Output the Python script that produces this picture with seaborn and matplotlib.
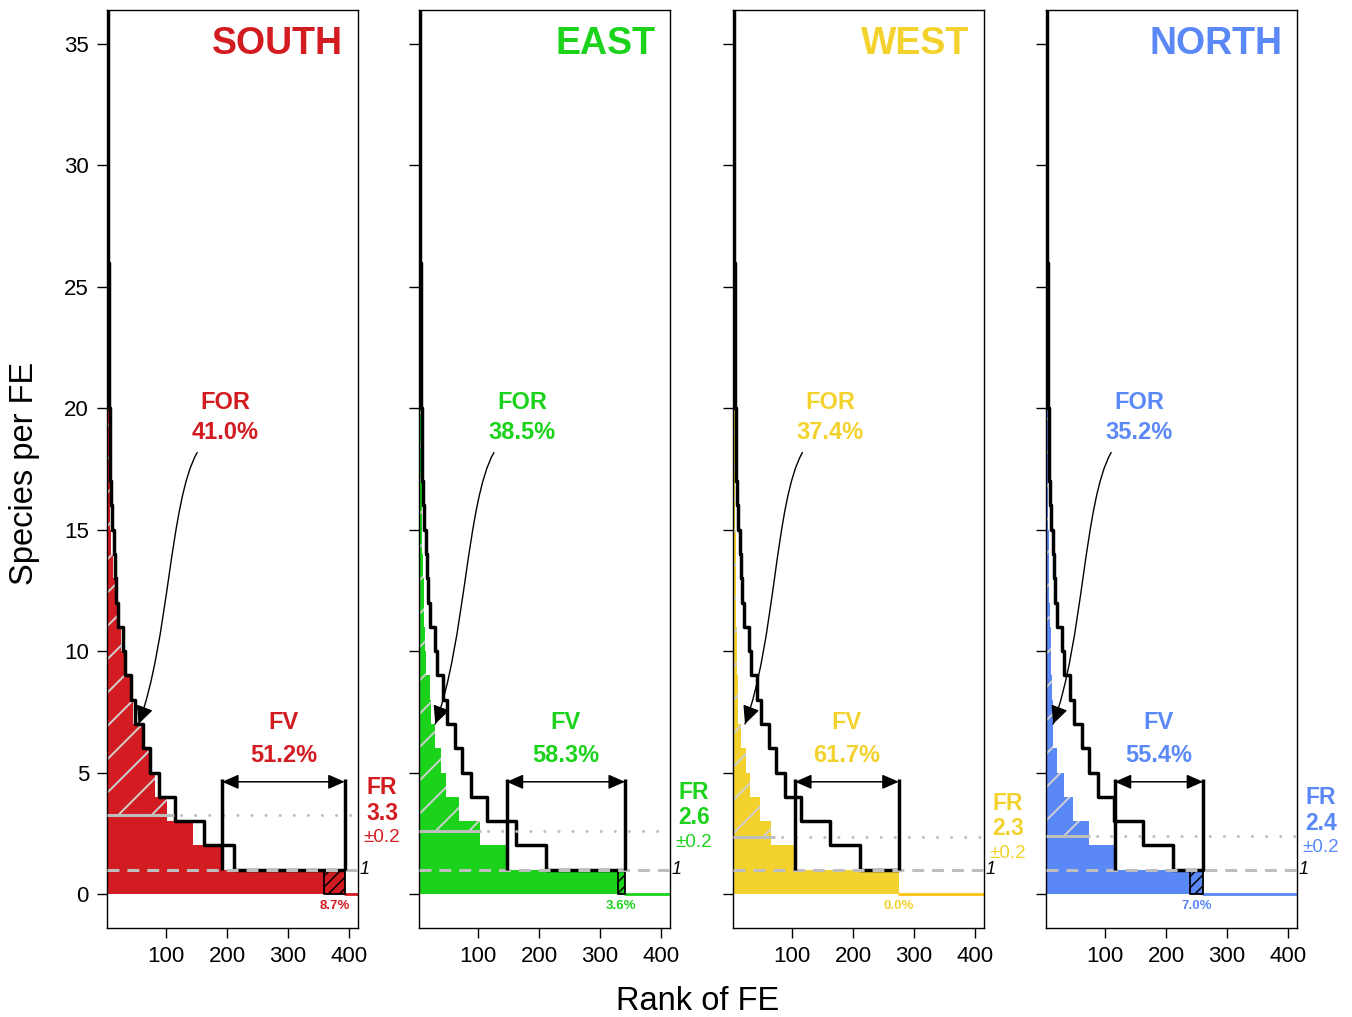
import numpy as np
import seaborn as sns
import matplotlib.pyplot as plt
from matplotlib.patches import FancyArrowPatch
from matplotlib.path import Path
from matplotlib.transforms import blended_transform_factory

# ---- data ----
regions = ["SOUTH", "EAST", "WEST", "NORTH"]
fill_colors = ["#D31C21", "#1BD31B", "#F4D22E", "#5B88F7"]
line_colors = ["#D31C21", "#1BD31B", "#FFC20E", "#5B88F7"]

# species per FE as steps: value of each step and the rank where it ends
south_levels = [25, 23, 20, 18, 16, 15, 14, 13, 12, 11, 10, 9, 8, 7, 6, 5, 4, 3, 2, 1]
south_ends = [5, 6, 7, 8, 9, 10, 13, 16, 20, 27, 31, 41, 46, 60, 72, 82, 101, 145, 192, 393]
east_levels = [23, 20, 18, 16, 14, 13, 12, 11, 10, 9, 8, 7, 6, 5, 4, 3, 2, 1]
east_ends = [6, 7, 8, 9, 10, 11, 12, 13, 14, 21, 23, 30, 40, 47, 69, 104, 147, 341]
west_levels = [23, 20, 17, 15, 13, 11, 9, 8, 7, 6, 5, 4, 3, 2, 1]
west_ends = [5, 6, 7, 8, 9, 10, 11, 12, 17, 25, 31, 47, 66, 105, 275]
north_levels = [23, 20, 17, 15, 13, 12, 11, 10, 9, 8, 7, 6, 5, 4, 3, 2, 1]
north_ends = [5, 6, 7, 8, 9, 10, 11, 12, 13, 14, 15, 21, 33, 48, 74, 116, 261]

# black reference curve (same in every panel), last step runs to the region total
null_levels = [60, 26, 22, 20, 18, 17, 16, 15, 14, 13, 12, 11, 10, 9, 8, 7, 6, 5, 4, 3, 2, 1]
null_ends = [5, 6, 7, 8, 9, 10, 12, 14, 16, 18, 21, 29, 33, 42, 49, 62, 74, 89, 114, 163, 212]

fr_values = [3.27, 2.59, 2.33, 2.40]
fr_sd = ["±0.2", "±0.2", "±0.2", "±0.2"]
fr_solid_end = [113, 105, 72, 75]
for_pct = ["41.0%", "38.5%", "37.4%", "35.2%"]
fv_pct = ["51.2%", "58.3%", "61.7%", "55.4%"]
box_start = [359, 329, 275, 240]
box_pct = ["8.7%", "3.6%", "0.0%", "7.0%"]
for_arrow_rank = [55, 30, 23, 15]

levels_all = [south_levels, east_levels, west_levels, north_levels]
ends_all = [south_ends, east_ends, west_ends, north_ends]

# ---- layout ----
for_text_x = [197, 172, 163, 156]
fr_text_y = [3.33, 3.13, 2.68, 2.92]
panel_left_px = [107, 419, 733, 1046]
W, H = 1352, 1017
XLIM = (3.3, 414.8)
YLIM = (-1.4, 36.4)
GREY = "#BEBEBE"

sns.set_theme(style="ticks", rc={"axes.edgecolor": "black", "axes.linewidth": 1.0,
                                 "xtick.color": "black", "ytick.color": "black",
                                 "text.color": "black", "axes.labelcolor": "black"})
plt.rcParams['font.family'] = ['Liberation Sans', 'DejaVu Sans']
plt.rcParams['hatch.linewidth'] = 1.4


def steps(levels, ends):
    x = np.concatenate([[0], ends])
    y = np.concatenate([levels, [levels[-1]]])
    return x, y


def shift(ax, x, y, dx, dy):
    X, Y = ax.transData.transform((x, y))
    return ax.transData.inverted().transform((X + dx, Y + dy))


fig = plt.figure(figsize=(W / 100, H / 100), dpi=100)

for i, region in enumerate(regions):
    ax = fig.add_axes([panel_left_px[i] / W, (H - 928) / H, 251 / W, 918 / H])
    ax.set_xlim(*XLIM)
    ax.set_ylim(*YLIM)
    fc, lc = fill_colors[i], line_colors[i]
    levels, ends = np.array(levels_all[i]), np.array(ends_all[i])
    total = ends[-1]
    fr = fr_values[i]

    x, y = steps(levels, ends)
    ax.fill_between(x, 0, y, step='post', color=fc, lw=0, zorder=1)
    ax.fill_between(x, fr, np.maximum(y, fr), step='post', facecolor='none',
                    edgecolor='#D0D0D0', hatch='/', lw=0, zorder=1.5)
    ax.plot([total, XLIM[1]], [0, 0], color=lc, lw=2, zorder=1.6)

    # unique-FE box
    b0 = box_start[i]
    if b0 < total:
        plt.rcParams['hatch.linewidth'] = 1.1
        ax.fill_between([b0, total], 0, 1, facecolor=fc, edgecolor='black',
                        hatch='///', lw=1.3, zorder=2)
        plt.rcParams['hatch.linewidth'] = 1.4
    ax.text((b0 + total) / 2, -0.5, box_pct[i], ha='center', va='center',
            fontsize=9.5, fontweight='bold', color=fc)

    # black reference curve
    xn, yn = steps(np.array(null_levels), np.array(null_ends + [total]))
    sns.lineplot(x=xn, y=yn, drawstyle='steps-post', color='black', lw=2.5,
                 estimator=None, sort=False, ax=ax, zorder=3)

    # FR line
    ax.plot([XLIM[0], fr_solid_end[i]], [fr, fr], color=GREY, lw=2.2,
            solid_capstyle='butt', zorder=4)
    ax.plot([fr_solid_end[i], XLIM[1]], [fr, fr], color=GREY, lw=2.2,
            ls=(2.3, (0.01, 4.6)), dash_capstyle='round', zorder=4)
    ax.axhline(1, color=GREY, lw=2.2, ls=(0, (3.9, 2.6)), zorder=4)

    # FV bracket
    fv0 = ends[-2]
    for xv in (fv0, total):
        ax.plot([xv, xv], [1, 4.72], color='black', lw=2.5,
                solid_capstyle='butt', zorder=5)
    ax.annotate('', xy=(total, 4.62), xytext=(fv0, 4.62),
                arrowprops=dict(arrowstyle='<|-|>,head_length=0.5,head_width=0.22',
                                mutation_scale=20, lw=1.1, color='black',
                                shrinkA=0, shrinkB=0), zorder=6)
    mid = (fv0 + total) / 2
    ax.text(mid, 7.08, "FV", ha='center', va='center', fontsize=17,
            fontweight='bold', color=fc)
    ax.text(mid, 5.72, fv_pct[i], ha='center', va='center', fontsize=17,
            fontweight='bold', color=fc)

    # FOR label + curved arrow
    fx = for_text_x[i]
    ax.text(fx, 20.25, "FOR", ha='center', va='center', fontsize=17,
            fontweight='bold', color=fc)
    ax.text(fx, 19.0, for_pct[i], ha='center', va='center', fontsize=17,
            fontweight='bold', color=fc)
    p0 = shift(ax, fx, 19.0, -28, -20)
    p3 = np.array([for_arrow_rank[i], 7.0])
    p1 = shift(ax, p0[0], p0[1], -27, -47)
    p2 = shift(ax, p3[0], p3[1], 30, 80)
    path = Path([p0, p1, p2, p3], [Path.MOVETO, Path.CURVE4, Path.CURVE4, Path.CURVE4])
    ax.add_patch(FancyArrowPatch(path=path, arrowstyle='-', lw=1.0,
                                 color='black', zorder=6))
    d = ax.transData.transform(p3) - ax.transData.transform(p2)
    d = d / np.hypot(*d)
    tail = shift(ax, p3[0], p3[1], -d[0] * 14, -d[1] * 14)
    ax.annotate('', xy=p3, xytext=tail,
                arrowprops=dict(arrowstyle='-|>,head_length=0.55,head_width=0.26',
                                mutation_scale=20, lw=1.0, color='black',
                                shrinkA=0, shrinkB=0), zorder=6)

    # FR text block on the right
    tr = blended_transform_factory(ax.transAxes, ax.transData)
    ax.text(1.096, fr_text_y[i] + 1.06, "FR", transform=tr, ha='center', va='center',
            fontsize=16.5, fontweight='bold', color=fc, clip_on=False)
    ax.text(1.096, fr_text_y[i], f"{fr:.1f}", transform=tr, ha='center', va='center',
            fontsize=16.5, fontweight='bold', color=fc, clip_on=False)
    ax.text(1.096, fr_text_y[i] - 1.0, fr_sd[i], transform=tr, ha='center', va='center',
            fontsize=13.5, color=fc, clip_on=False)
    ax.text(1.028, 1, "1", transform=tr, ha='center', va='center', fontsize=13,
            fontstyle='italic', color='black', clip_on=False)

    # region title
    ax.text(0.942, 35.0, region, transform=tr, ha='right', va='center',
            fontsize=27, fontweight='bold', color=fc)

    ax.set_xticks([100, 200, 300, 400])
    ax.set_yticks([0, 5, 10, 15, 20, 25, 30, 35])
    ax.tick_params(axis='both', direction='out', length=7, width=1, labelsize=16)
    ax.tick_params(axis='x', pad=6)
    ax.tick_params(axis='y', pad=6)
    if i > 0:
        ax.tick_params(axis='y', labelleft=False)
    ax.set_xlabel('')
    ax.set_ylabel('')
    for s in ax.spines.values():
        s.set_visible(True)
        s.set_linewidth(1.0)
        s.set_color('black')

fig.text(25 / W, 1 - 473 / H, "Species per FE", rotation=90, ha='center',
         va='center', fontsize=23.5)
fig.text(698 / W, 1 - 1001 / H, "Rank of FE", ha='center', va='center', fontsize=23.5)

fig.savefig("out.png", dpi=100)
